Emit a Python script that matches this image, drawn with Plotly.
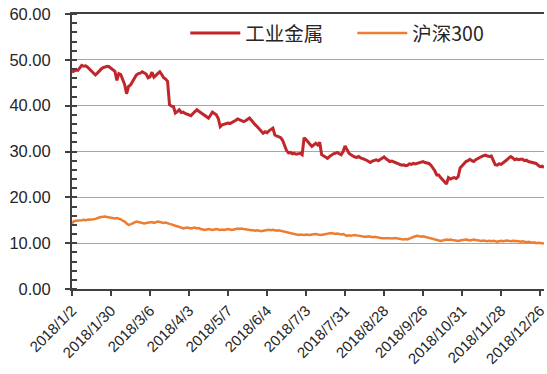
import plotly.graph_objects as go

# Trading-day tick labels (one every 20 sessions)
tick_labels = ["2018/1/2", "2018/1/30", "2018/3/6", "2018/4/3", "2018/5/7", "2018/6/4",
               "2018/7/3", "2018/7/31", "2018/8/28", "2018/9/26", "2018/10/31",
               "2018/11/28", "2018/12/26"]
tick_step = 20

# 工业金属 valuation series (daily, 2018 trading sessions)
metals = [
    47.3, 47.6, 47.8, 47.7, 48.3, 48.8, 48.6, 48.7, 48.4, 48.0,
    47.4, 47.0, 46.7, 47.1, 47.6, 48.0, 48.3, 48.4, 48.6, 48.5,
    48.2, 47.8, 47.5, 45.5, 47.0, 46.8, 45.6, 44.6, 42.6, 44.2,
    44.5, 45.3, 46.2, 46.7, 47.0, 47.1, 47.4, 47.2, 46.9, 46.1,
    46.3, 47.3, 46.2, 46.6, 47.1, 47.4, 46.8, 46.1, 45.8, 45.3,
    40.2, 39.9, 39.8, 38.4, 38.7, 39.1, 38.5, 38.6, 38.3, 38.1,
    37.9, 37.8, 38.3, 38.8, 39.1, 38.8, 38.5, 38.2, 37.8, 37.5,
    37.3, 37.9, 38.6, 38.3, 38.0, 37.2, 35.4, 35.8, 35.9, 36.0,
    36.2, 36.1, 36.3, 36.5, 36.8, 37.1, 36.9, 36.6, 36.5, 36.7,
    37.0, 37.3, 36.8, 36.2, 35.8, 35.4, 34.9, 34.3, 34.0, 34.3,
    34.1, 34.5, 34.8, 35.1, 33.6, 33.4, 33.2, 33.0, 32.4, 31.4,
    30.2, 29.7, 29.8, 29.5, 29.6, 29.4, 29.5, 29.6, 29.3, 33.0,
    32.6, 32.2, 31.6, 31.1, 31.5, 31.8, 31.4, 32.0, 29.3, 29.0,
    28.8, 28.5, 28.9, 29.3, 29.5, 29.6, 29.8, 29.5, 29.3, 30.0,
    31.2, 30.4, 29.6, 29.3, 29.0, 28.8, 28.7, 28.9, 28.6, 28.5,
    28.3, 28.1, 27.8, 27.6, 27.9, 28.0, 28.2, 28.0, 28.3, 28.5,
    28.8, 28.4, 28.0, 27.8, 27.9, 27.7, 27.6, 27.4, 27.2, 27.0,
    27.1, 26.9, 27.0, 27.3, 27.2, 27.4, 27.3, 27.4, 27.6, 27.7,
    27.8, 27.6, 27.5, 27.4, 27.0, 26.4, 25.8, 24.9, 24.9, 24.3,
    23.8, 23.3, 22.9, 24.3, 24.0, 24.2, 24.3, 24.1, 24.5, 26.4,
    26.9, 27.4, 27.8, 28.0, 28.3, 28.0, 27.8, 28.2, 28.5, 28.7,
    28.9, 29.1, 29.2, 29.0, 28.9, 29.0, 28.2, 27.1, 27.0, 27.3,
    27.2, 27.5, 27.8, 28.2, 28.6, 28.9, 28.6, 28.2, 28.4, 28.2,
    28.3, 28.3, 28.0, 28.1, 27.8, 27.7, 27.6, 27.5, 27.4, 27.0,
    26.7, 26.8, 26.5,
]

# 沪深300 valuation series (daily, 2018 trading sessions)
csi300 = [
    14.3, 14.8, 14.9, 14.9, 15.0, 15.0, 15.1, 15.0, 15.1, 15.1,
    15.2, 15.2, 15.3, 15.5, 15.6, 15.7, 15.8, 15.8, 15.7, 15.6,
    15.6, 15.5, 15.4, 15.5, 15.4, 15.2, 14.9, 14.7, 14.3, 14.0,
    14.1, 14.3, 14.5, 14.7, 14.6, 14.5, 14.4, 14.3, 14.4, 14.5,
    14.5, 14.6, 14.4, 14.5, 14.7, 14.6, 14.5, 14.4, 14.5, 14.3,
    14.2, 14.1, 13.9, 13.8, 13.7, 13.6, 13.4, 13.2, 13.3, 13.4,
    13.3, 13.2, 13.3, 13.4, 13.2, 13.3, 13.1, 13.0, 12.9, 13.0,
    13.1, 13.0, 12.9, 13.0, 13.1, 13.0, 12.9, 13.0, 12.9, 13.0,
    13.1, 13.0, 12.9, 13.0, 13.1, 13.2, 13.1, 13.2, 13.1, 13.0,
    13.0, 12.9, 12.8, 12.8, 12.7, 12.8, 12.7, 12.6, 12.7, 12.8,
    12.8, 12.9, 12.8, 12.9, 12.8, 12.7, 12.8, 12.7, 12.7, 12.6,
    12.5, 12.4, 12.3, 12.2, 12.0, 11.9, 11.8, 11.9, 11.8, 11.8,
    11.9, 11.8, 11.8, 11.9, 12.0, 12.0, 11.9, 11.8, 11.8, 11.9,
    12.0, 12.1, 12.2, 12.2, 12.1, 12.0, 12.1, 12.0, 11.9, 12.0,
    11.8, 11.6, 11.7, 11.6, 11.7, 11.8, 11.7, 11.6, 11.5, 11.5,
    11.4, 11.4, 11.5, 11.4, 11.3, 11.4, 11.3, 11.2, 11.2, 11.1,
    11.1, 11.1, 11.2, 11.1, 11.0, 11.1, 11.1, 11.0, 10.9, 10.9,
    10.8, 10.9, 10.8, 11.0, 11.2, 11.4, 11.5, 11.6, 11.5, 11.4,
    11.5, 11.4, 11.3, 11.1, 11.0, 10.9, 10.8, 10.7, 10.6, 10.5,
    10.6, 10.7, 10.8, 10.7, 10.8, 10.7, 10.6, 10.5, 10.5, 10.6,
    10.7, 10.8, 10.8, 10.7, 10.6, 10.7, 10.8, 10.7, 10.6, 10.6,
    10.5, 10.6, 10.5, 10.4, 10.5, 10.4, 10.5, 10.4, 10.3, 10.4,
    10.5, 10.4, 10.5, 10.6, 10.5, 10.4, 10.5, 10.5, 10.4, 10.4,
    10.3, 10.4, 10.3, 10.2, 10.3, 10.2, 10.1, 10.2, 10.0, 10.1,
    10.0, 9.9, 9.9,
]

days = list(range(len(metals)))
tick_vals = [i * tick_step for i in range(len(tick_labels))]

AXIS = "#404040"
TXT = "#262626"

fig = go.Figure()
fig.add_trace(go.Scatter(x=days, y=metals, mode="lines", name="工业金属",
                         line=dict(color="#C0262B", width=3)))
fig.add_trace(go.Scatter(x=days, y=csi300, mode="lines", name="沪深300",
                         line=dict(color="#ED7D31", width=2.5)))

fig.update_layout(
    width=547, height=374,
    margin=dict(l=72, r=0, t=14, b=85),
    paper_bgcolor="white", plot_bgcolor="white",
    font=dict(family="Liberation Sans, Arial, sans-serif", color=TXT),
    showlegend=True,
    legend=dict(orientation="h", x=0.24, y=0.93, xanchor="left", yanchor="middle",
                bgcolor="rgba(0,0,0,0)",
                font=dict(family="Noto Sans CJK SC, Liberation Sans", size=19.5, color=TXT),
                itemwidth=50, entrywidth=102, entrywidthmode="pixels"),
)
fig.update_xaxes(
    range=[0, len(metals) - 1],
    tickmode="array", tickvals=tick_vals, ticktext=tick_labels,
    tickangle=-45, tickfont=dict(size=15, color=TXT),
    ticklabeloverflow="allow",
    ticks="outside", ticklen=5, tickcolor=AXIS, tickwidth=1.5,
    showline=True, linecolor=AXIS, linewidth=2, mirror=True,
    showgrid=False, zeroline=False,
)
fig.update_yaxes(
    range=[0, 60], tickmode="linear", tick0=0, dtick=10,
    tickformat=".2f", tickfont=dict(size=16.5, color=TXT),
    ticks="outside", ticklen=5, tickcolor=AXIS, tickwidth=1.5,
    ticklabelstandoff=11,
    minor=dict(ticks="inside", dtick=2, ticklen=5, tickcolor=AXIS, tickwidth=1.5, showgrid=False),
    showline=True, linecolor=AXIS, linewidth=2,
    showgrid=True, gridcolor="#A6A6A6", gridwidth=1, zeroline=False,
)

fig.write_html("out.html")
